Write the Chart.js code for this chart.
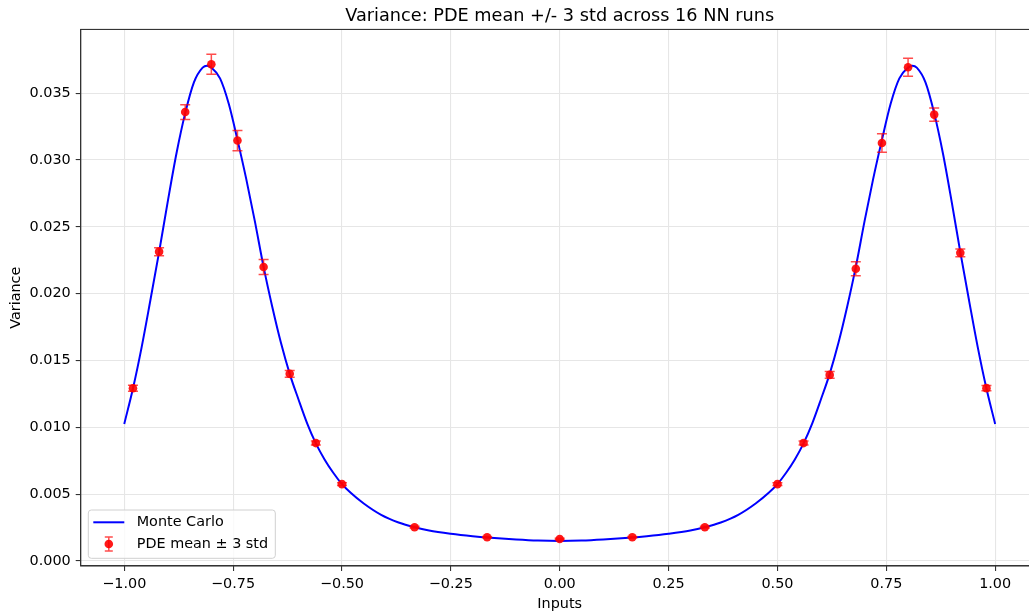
<!DOCTYPE html>
<html>
<head>
<meta charset="utf-8">
<script src="https://cdn.jsdelivr.net/npm/chart.js@4.4.1/dist/chart.umd.min.js"></script>
<style>
  html, body { margin: 0; padding: 0; background: #fff; overflow: hidden; }
  #wrap { width: 1043px; height: 614px; position: relative; }
</style>
</head>
<body>
<div id="wrap"><canvas id="varChart"></canvas></div>
<script>
// Monte Carlo reference curve
const curveX = [-1.00, -0.98, -0.96, -0.94, -0.92, -0.90, -0.88, -0.86, -0.84, -0.82, -0.81, -0.80,
    -0.78, -0.76, -0.74, -0.72, -0.70, -0.68, -0.66, -0.64, -0.62, -0.60, -0.58, -0.56, -0.54, -0.52,
    -0.50, -0.48, -0.45, -0.41, -0.37, -0.333, -0.30, -0.25, -0.20, -0.15, -0.10, -0.05, 0.00,
    0.05, 0.10, 0.15, 0.20, 0.25, 0.30, 0.333, 0.37, 0.41, 0.45, 0.48, 0.50, 0.52, 0.54, 0.56, 0.58, 0.60,
    0.62, 0.64, 0.66, 0.68, 0.70, 0.72, 0.74, 0.76, 0.78, 0.80, 0.81, 0.82, 0.84, 0.86, 0.88,
    0.90, 0.92, 0.94, 0.96, 0.98, 1.00];
const curveY = [0.01025, 0.0129, 0.0160, 0.0195, 0.0231, 0.0269, 0.0305, 0.0335, 0.0358, 0.0369, 0.03705, 0.0369,
    0.0361, 0.0342, 0.0315, 0.0286, 0.0254, 0.0220, 0.0190, 0.0163, 0.0140, 0.0121, 0.0103, 0.0088, 0.0076, 0.0066,
    0.00575, 0.0051, 0.0043, 0.00345, 0.00288, 0.00252, 0.00228, 0.00204, 0.00186, 0.00172, 0.00161, 0.00153, 0.00150,
    0.00153, 0.00161, 0.00172, 0.00186, 0.00204, 0.00228, 0.00252, 0.00288, 0.00345, 0.0043, 0.0051, 0.00575, 0.0066, 0.0076, 0.0088, 0.0103, 0.0121,
    0.0140, 0.0163, 0.0190, 0.0220, 0.0254, 0.0286, 0.0315, 0.0342, 0.0361, 0.0369, 0.03705, 0.0369, 0.0358, 0.0335, 0.0305,
    0.0269, 0.0231, 0.0195, 0.0160, 0.0129, 0.01025];

// PDE mean and 3 std half-width over the NN runs
const pdeX = [-0.98, -0.92, -0.86, -0.80, -0.74, -0.68, -0.62, -0.56, -0.50, -0.3333, -0.1667, 0.00,
    0.1667, 0.3333, 0.50, 0.56, 0.62, 0.68, 0.74, 0.80, 0.86, 0.92, 0.98];
const pdeMean = [0.01292, 0.02314, 0.03358, 0.03716, 0.03145, 0.02199, 0.01400, 0.00882, 0.00575, 0.00253, 0.00178, 0.00165,
    0.00178, 0.00253, 0.00575, 0.00882, 0.01392, 0.02186, 0.03127, 0.03693, 0.03339, 0.02305, 0.01293];
const pdeErr = [0.00022, 0.00030, 0.00055, 0.00075, 0.00076, 0.00056, 0.00025, 0.00015, 0.00010, 0.00006, 0.00005, 0.00006,
    0.00005, 0.00006, 0.00010, 0.00015, 0.00025, 0.00052, 0.00069, 0.00067, 0.00049, 0.00029, 0.00020];

const xTicks = [-1.00, -0.75, -0.50, -0.25, 0.00, 0.25, 0.50, 0.75, 1.00];
const yTicks = [0.000, 0.005, 0.010, 0.015, 0.020, 0.025, 0.030, 0.035];

const FONT = 'DejaVu Sans';
const SPINE = '#333333';

// error bars, drawn after the curve and under the markers
const errorBars = {
    id: 'errorBars',
    afterDatasetDraw(chart, args) {
        if (args.meta.type !== 'line') return;
        const ctx = chart.ctx;
        const xs = chart.scales.x, ys = chart.scales.y;
        ctx.save();
        ctx.strokeStyle = 'rgba(255, 0, 0, 0.7)';
        ctx.lineWidth = 1.5;
        pdeX.forEach((xv, i) => {
            const px = xs.getPixelForValue(xv);
            const top = ys.getPixelForValue(pdeMean[i] + pdeErr[i]);
            const bot = ys.getPixelForValue(pdeMean[i] - pdeErr[i]);
            ctx.beginPath();
            ctx.moveTo(px, top); ctx.lineTo(px, bot);
            ctx.moveTo(px - 5, top); ctx.lineTo(px + 5, top);
            ctx.moveTo(px - 5, bot); ctx.lineTo(px + 5, bot);
            ctx.stroke();
        });
        ctx.restore();
    }
};

// frame + legend in the lower left corner, like the original
const frameAndLegend = {
    id: 'frameAndLegend',
    afterDraw(chart) {
        const ctx = chart.ctx;
        const a = chart.chartArea;
        ctx.save();
        ctx.strokeStyle = SPINE;
        ctx.lineWidth = 1.1;
        ctx.strokeRect(a.left, a.top, a.right - a.left, a.bottom - a.top);

        const x0 = a.left + 7.6, y0 = a.bottom - 56, w = 187, h = 48.3;
        ctx.beginPath();
        ctx.roundRect(x0, y0, w, h, 3);
        ctx.fillStyle = 'rgba(255, 255, 255, 0.8)';
        ctx.fill();
        ctx.strokeStyle = '#d0d0d0';
        ctx.lineWidth = 1;
        ctx.stroke();

        const ds = chart.data.datasets;
        const r1 = y0 + 12.3, r2 = y0 + 34;
        const hx = x0 + 20.5;

        ctx.strokeStyle = ds[1].borderColor;
        ctx.lineWidth = 2;
        ctx.beginPath();
        ctx.moveTo(x0 + 5, r1); ctx.lineTo(x0 + 36, r1);
        ctx.stroke();

        ctx.strokeStyle = 'rgba(255, 0, 0, 0.7)';
        ctx.lineWidth = 1.5;
        ctx.beginPath();
        ctx.moveTo(hx, r2 - 7); ctx.lineTo(hx, r2 + 7);
        ctx.moveTo(hx - 4, r2 - 7); ctx.lineTo(hx + 4, r2 - 7);
        ctx.moveTo(hx - 4, r2 + 7); ctx.lineTo(hx + 4, r2 + 7);
        ctx.stroke();
        ctx.fillStyle = ds[0].backgroundColor;
        ctx.beginPath();
        ctx.arc(hx, r2, 4.3, 0, Math.PI * 2);
        ctx.fill();

        ctx.fillStyle = '#000';
        ctx.font = '14.4px "' + FONT + '"';
        ctx.textBaseline = 'middle';
        ctx.fillText(ds[1].label, x0 + 48.4, r1);
        ctx.fillText(ds[0].label, x0 + 48.4, r2);
        ctx.restore();
    }
};

function createChart() {
    const ctx = document.getElementById('varChart').getContext('2d');
    new Chart(ctx, {
        type: 'scatter',
        data: {
            datasets: [{
                label: 'PDE mean \u00b1 3 std',
                data: pdeX.map((x, i) => ({ x: x, y: pdeMean[i] })),
                backgroundColor: 'rgba(255, 0, 0, 0.9)',
                borderWidth: 0,
                pointRadius: 4.3,
                showLine: false,
                order: 1
            }, {
                type: 'line',
                label: 'Monte Carlo',
                data: curveX.map((x, i) => ({ x: x, y: curveY[i] })),
                borderColor: '#0000ff',
                borderWidth: 2,
                pointRadius: 0,
                fill: false,
                cubicInterpolationMode: 'monotone',
                order: 2
            }]
        },
        options: {
            responsive: true,
            maintainAspectRatio: false,
            animation: false,
            layout: { padding: { left: 0, right: 1.7, top: 0, bottom: 0 } },
            plugins: {
                legend: { display: false },
                tooltip: { enabled: false },
                title: {
                    display: true,
                    fullSize: false,
                    text: 'Variance: PDE mean +/- 3 std across 16 NN runs',
                    color: '#000',
                    font: { family: FONT, size: 17.7, weight: 'normal' },
                    padding: { top: 6.2, bottom: 2 }
                }
            },
            scales: {
                x: {
                    type: 'linear',
                    min: -1.1,
                    max: 1.1,
                    afterBuildTicks: s => { s.ticks = xTicks.map(v => ({ value: v })); },
                    afterFit: s => { s.height = 48; },
                    ticks: {
                        color: '#000',
                        font: { family: FONT, size: 14.4 },
                        padding: 5,
                        maxRotation: 0,
                        callback: v => (v < 0 ? '\u2212' : '') + Math.abs(v).toFixed(2)
                    },
                    grid: { color: '#e6e6e6', lineWidth: 1.1, tickLength: 5, tickColor: SPINE, tickWidth: 1.1 },
                    border: { display: true, color: SPINE, width: 1.1 },
                    title: {
                        display: true, text: 'Inputs', color: '#000',
                        font: { family: FONT, size: 14.4 },
                        padding: { top: 0, bottom: 0.7 }
                    }
                },
                y: {
                    type: 'linear',
                    min: -0.000374,
                    max: 0.03976,
                    afterBuildTicks: s => { s.ticks = yTicks.map(v => ({ value: v })); },
                    afterFit: s => { s.width = 80.7; },
                    ticks: {
                        color: '#000',
                        font: { family: FONT, size: 14.4 },
                        padding: 5,
                        callback: v => v.toFixed(3)
                    },
                    grid: { color: '#e6e6e6', lineWidth: 1.1, tickLength: 5, tickColor: SPINE, tickWidth: 1.1 },
                    border: { display: true, color: SPINE, width: 1.1 },
                    title: {
                        display: true, text: 'Variance', color: '#000',
                        font: { family: FONT, size: 14.4 },
                        padding: { top: 8, bottom: 0 }
                    }
                }
            }
        },
        plugins: [errorBars, frameAndLegend]
    });
}

document.addEventListener('DOMContentLoaded', createChart);
</script>
</body>
</html>
